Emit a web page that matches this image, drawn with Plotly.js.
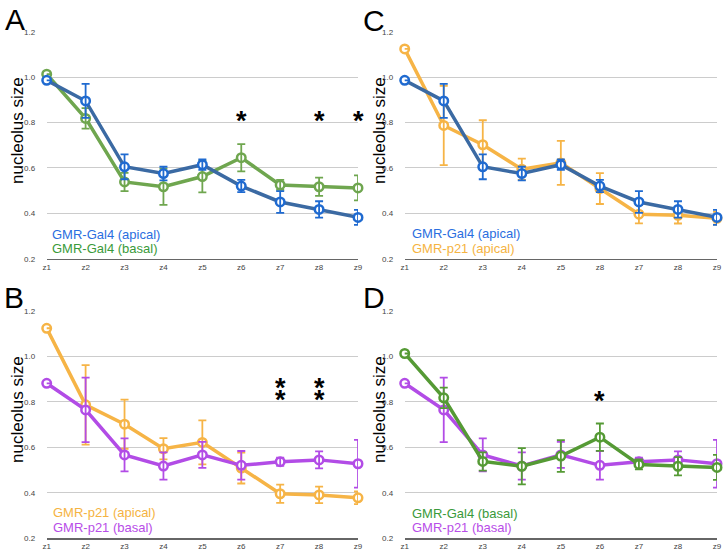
<!DOCTYPE html>
<html>
<head>
<meta charset="utf-8">
<script src="https://cdn.plot.ly/plotly-3.0.1.min.js"></script>
<style>html,body{margin:0;padding:0;background:#fff;}#chart{width:725px;height:553px;}</style>
</head>
<body>
<div id="chart"></div>
<script>
// ---- data ----
const zPos = [1, 2, 3, 4, 5, 6, 7, 8, 9];
const zLabels = ['z1', 'z2', 'z3', 'z4', 'z5', 'z6', 'z7', 'z8', 'z9'];
const zLabelsC = ['z1', 'z2', 'z3', 'z4', 'z5', 'z8', 'z7', 'z8', 'z9'];

const gal4Apical    = [0.986, 0.895, 0.605, 0.575, 0.614, 0.520, 0.450, 0.417, 0.382];
const gal4ApicalErr = [0.000, 0.075, 0.055, 0.030, 0.023, 0.027, 0.048, 0.036, 0.033];
const gal4Basal     = [1.013, 0.818, 0.538, 0.517, 0.562, 0.645, 0.525, 0.517, 0.512];
const gal4BasalErr  = [0.000, 0.045, 0.040, 0.080, 0.070, 0.060, 0.022, 0.040, 0.055];
const p21Apical     = [1.124, 0.787, 0.702, 0.594, 0.622, 0.509, 0.396, 0.391, 0.378];
const p21ApicalErr  = [0.000, 0.175, 0.108, 0.047, 0.097, 0.068, 0.040, 0.036, 0.028];
const p21Basal      = [0.882, 0.765, 0.567, 0.518, 0.567, 0.521, 0.537, 0.545, 0.528];
const p21BasalErr   = [0.000, 0.142, 0.073, 0.060, 0.057, 0.063, 0.018, 0.037, 0.105];

const panelLetters = ['A', 'B', 'C', 'D'];
const yTitle = 'nucleolus size';
const legendA = ['GMR-Gal4 (apical)', 'GMR-Gal4 (basal)'];
const legendB = ['GMR-p21 (apical)', 'GMR-p21 (basal)'];
const legendC = ['GMR-Gal4 (apical)', 'GMR-p21 (apical)'];
const legendD = ['GMR-Gal4 (basal)', 'GMR-p21 (basal)'];
// significance marks: [x position, y value]
const starsA = [[6, 0.826], [8, 0.826], [9, 0.826]];
const starsB = [[7, 0.877], [7, 0.826], [8, 0.877], [8, 0.826]];
const starsD = [[6, 0.823]];

// ---- styles ----
const S = {
  gal4Apical: {line: '#3b6aa3', mark: '#1f6ad0', text: '#2a6ee0'},
  gal4BasalA: {line: '#6fa64f', mark: '#6fa64f', text: '#3a9a3a'},
  gal4BasalD: {line: '#559a35', mark: '#559a35', text: '#3a9a3a'},
  p21Apical:  {line: '#f6b446', mark: '#f6b446', text: '#f5b342'},
  p21Basal:   {line: '#b24ce6', mark: '#b24ce6', text: '#b84de8'}
};

function series(y, err, st, xa, ya) {
  return [
    {x: zPos, y: y, xaxis: xa, yaxis: ya, type: 'scatter', mode: 'lines+markers',
     cliponaxis: false, hoverinfo: 'skip',
     line: {color: st.line, width: 3.5},
     marker: {symbol: 'circle', size: 8.5, color: '#ffffff', line: {color: st.mark, width: 2.5}}},
    {x: zPos, y: y, xaxis: xa, yaxis: ya, type: 'scatter', mode: 'markers',
     cliponaxis: false, hoverinfo: 'skip',
     marker: {size: 0.1, color: 'rgba(0,0,0,0)'},
     error_y: {type: 'data', array: err, visible: true, color: st.mark, thickness: 1.8, width: 4}}
  ];
}

const data = [].concat(
  series(gal4Basal, gal4BasalErr, S.gal4BasalA, 'x', 'y'),
  series(gal4Apical, gal4ApicalErr, S.gal4Apical, 'x', 'y'),
  series(p21Apical, p21ApicalErr, S.p21Apical, 'x2', 'y2'),
  series(p21Basal, p21BasalErr, S.p21Basal, 'x2', 'y2'),
  series(p21Apical, p21ApicalErr, S.p21Apical, 'x3', 'y3'),
  series(gal4Apical, gal4ApicalErr, S.gal4Apical, 'x3', 'y3'),
  series(p21Basal, p21BasalErr, S.p21Basal, 'x4', 'y4'),
  series(gal4Basal, gal4BasalErr, S.gal4BasalD, 'x4', 'y4')
);

const W = 725, H = 553;
const colL = [46.7 / W, 358 / W];
const colR = [404.7 / W, 717 / W];
const rowT = [1 - 258.7 / H, 1 - 31.7 / H];
const rowB = [1 - 538.3 / H, 1 - 311 / H];

function xax(dom, anchor, labels) {
  return {domain: dom, anchor: anchor, range: [1, 9], tickmode: 'array', tickvals: zPos, ticktext: labels,
    showgrid: false, zeroline: false, showline: true, linecolor: '#666', linewidth: 1.5,
    ticks: '',
    tickfont: {family: 'Liberation Sans, Arial, sans-serif', size: 8, color: '#444'}, fixedrange: true};
}
function yax(dom, anchor) {
  return {domain: dom, anchor: anchor, range: [0.2, 1.2], tickmode: 'array',
    tickvals: [0.2, 0.4, 0.6, 0.8, 1.0, 1.2], ticktext: ['0.2', '0.4', '0.6', '0.8', '1.0', '1.2'],
    showgrid: true, gridcolor: '#cccccc', gridwidth: 1, zeroline: false, showline: false,
    ticks: 'outside', ticklen: 9, tickcolor: 'rgba(0,0,0,0)',
    tickfont: {family: 'Liberation Sans, Arial, sans-serif', size: 8, color: '#444'}, fixedrange: true};
}

const ann = [];
const font = 'Liberation Sans, Arial, sans-serif';
// panel letters
[[panelLetters[0], 15, 19], [panelLetters[1], 14, 297], [panelLetters[2], 374, 20], [panelLetters[3], 374, 297]].forEach(p => {
  ann.push({text: p[0], xref: 'paper', yref: 'paper', x: p[1] / W, y: 1 - p[2] / H, xanchor: 'center', yanchor: 'middle',
    showarrow: false, borderpad: 0, font: {family: font, size: 30, color: '#000'}});
});
// y titles
[[17, 131], [17, 410], [379, 131], [379, 410]].forEach(p => {
  ann.push({text: yTitle, xref: 'paper', yref: 'paper', x: p[0] / W, y: 1 - p[1] / H, xanchor: 'center', yanchor: 'middle',
    textangle: -90, showarrow: false, borderpad: 0, font: {family: font, size: 17, color: '#000'}});
});
// legends
function leg(lines, colors, x, y1, y2) {
  ann.push({text: lines[0], xref: 'paper', yref: 'paper', x: x / W, y: 1 - y1 / H, xanchor: 'left', yanchor: 'middle',
    showarrow: false, borderpad: 0, font: {family: font, size: 13, color: colors[0]}});
  ann.push({text: lines[1], xref: 'paper', yref: 'paper', x: x / W, y: 1 - y2 / H, xanchor: 'left', yanchor: 'middle',
    showarrow: false, borderpad: 0, font: {family: font, size: 13, color: colors[1]}});
}
leg(legendA, [S.gal4Apical.text, S.gal4BasalA.text], 51, 234, 248);
leg(legendB, [S.p21Apical.text, S.p21Basal.text], 52, 512, 527);
leg(legendC, [S.gal4Apical.text, S.p21Apical.text], 411, 233, 248);
leg(legendD, [S.gal4BasalA.text, S.p21Basal.text], 411, 513, 527);
// stars
function stars(list, xr, yr) {
  list.forEach(s => ann.push({text: '<b>*</b>', xref: xr, yref: yr, x: s[0], y: s[1],
    xanchor: 'center', yanchor: 'middle', showarrow: false, borderpad: 0, yshift: -4,
    font: {family: font, size: 27, color: '#000'}}));
}
stars(starsA, 'x', 'y');
stars(starsB, 'x2', 'y2');
stars(starsD, 'x4', 'y4');

const layout = {
  width: W, height: H, margin: {l: 0, r: 0, t: 0, b: 0},
  paper_bgcolor: '#fff', plot_bgcolor: 'rgba(0,0,0,0)', showlegend: false,
  xaxis: xax(colL, 'y', zLabels), yaxis: yax(rowT, 'x'),
  xaxis2: xax(colL, 'y2', zLabels), yaxis2: yax(rowB, 'x2'),
  xaxis3: xax(colR, 'y3', zLabelsC), yaxis3: yax(rowT, 'x3'),
  xaxis4: xax(colR, 'y4', zLabels), yaxis4: yax(rowB, 'x4'),
  annotations: ann
};
Plotly.newPlot('chart', data, layout, {displayModeBar: false, staticPlot: true});
</script>
</body>
</html>
